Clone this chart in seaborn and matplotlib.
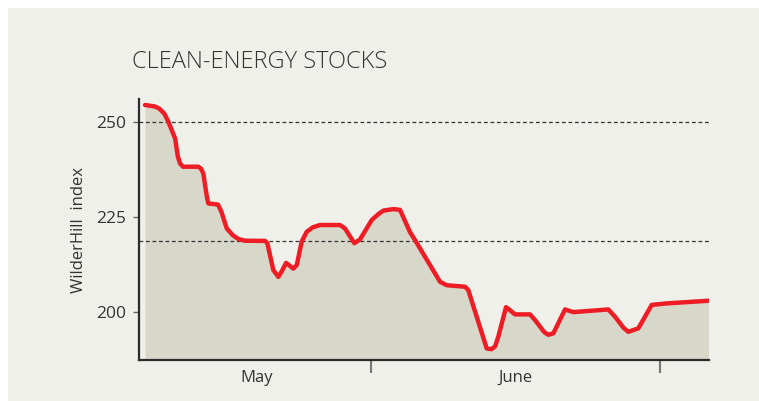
import matplotlib
matplotlib.use("Agg")
import matplotlib.pyplot as plt
import matplotlib.patches as mpatches
import seaborn as sns
import pandas as pd

# ---- data (days since 1 May, WilderHill index values) ----
day = [7.59, 8.63, 9.1, 9.6, 10.01, 10.71, 11.0, 11.22, 11.53, 13.12, 13.4, 13.64, 14.0, 14.16,
       15.16, 15.5, 16.07, 16.7, 17.27, 17.96, 20.04, 20.28, 20.90, 21.42, 21.8,
       22.22, 22.97, 23.33, 23.84, 24.36, 25.0, 25.74, 27.82, 28.33, 29.30, 29.89,
       31.10, 31.8, 32.31, 33.34, 34.04, 35.08, 35.60, 38.19, 38.88, 40.78, 41.12,
       43.03, 43.5, 43.89, 44.23, 45.03, 45.45, 45.96, 47.52, 48.04, 49.0, 49.42, 49.94,
       51.15, 52.01, 54.08, 55.64, 56.33, 57.2, 57.71, 58.75, 60.14, 61.70, 66.03]
index = [254.6, 254.2, 253.6, 252.3, 250.2, 245.8, 241.0, 239.2, 238.3, 238.3, 237.8, 236.5, 230.5,
         228.6, 228.3, 226.5, 222.0, 220.2, 219.2, 218.75, 218.7, 218.1, 211.0, 209.2, 210.8,
         212.9, 211.4, 212.3, 218.5, 221.1, 222.3, 222.9, 222.9, 222.0, 218.1, 219.1,
         224.2, 225.8, 226.7, 227.1, 226.9, 221.0, 218.9, 207.9, 207.0, 206.6, 205.7,
         190.3, 190.1, 190.8, 193.4, 201.2, 200.4, 199.3, 199.3, 197.8, 194.6, 193.9, 194.3,
         200.6, 199.9, 200.3, 200.6, 198.7, 195.8, 194.7, 195.6, 201.8, 202.2, 202.9]
ref_levels = [250.0, 218.8]
y_ticks = [200, 225, 250]
month_bounds = [31, 61]
month_labels = ["May", "June"]
month_label_pos = [19.2, 46.0]

BG = "#f0f0eb"
FILL = "#d7d8ca"
RED = "#ee1d25"
TXT = "#333333"

sns.set_theme(style="white")
plt.rcParams["font.family"] = ["Open Sans", "DejaVu Sans"]

df = pd.DataFrame({"day": day, "index": index})

fig = plt.figure(figsize=(7.59, 4.01), dpi=100, facecolor="white")
fig.patches.append(mpatches.Rectangle((8 / 759, 0), 1 - 8 / 759, 1 - 8 / 401,
                                      transform=fig.transFigure, facecolor=BG,
                                      edgecolor="none", zorder=-10))
ax = fig.add_axes([139 / 759, (401 - 360) / 401, (708.7 - 139) / 759, (360 - 99.3) / 401])
ax.set_zorder(5)
ax.set_facecolor(BG)

ax.fill_between(df["day"], df["index"], 150, color=FILL, zorder=1, linewidth=0)
for lv in ref_levels:
    ax.axhline(lv, color="#333333", lw=0.9, ls=(0, (3, 2.2)), zorder=2)
sns.lineplot(data=df, x="day", y="index", ax=ax, color=RED, linewidth=3.2,
             solid_joinstyle="round", solid_capstyle="round", zorder=3)

ax.set_xlim(6.97, 66.05)
ax.set_ylim(187.25, 256.1)

for s in ["top", "right"]:
    ax.spines[s].set_visible(False)
for s in ["left", "bottom"]:
    ax.spines[s].set_color("#2b2b2b")
    ax.spines[s].set_linewidth(1.6)

ax.set_yticks(y_ticks)
ax.set_yticklabels([str(v) for v in y_ticks], fontsize=12.5, color=TXT)
ax.tick_params(axis="y", which="major", left=True, length=4, width=1, color="#666666", pad=5)

ax.set_xticks(month_bounds)
ax.set_xticklabels(["", ""])
ax.tick_params(axis="x", which="major", bottom=True, length=9, width=1.5, color="#777777")
ax.set_xticks(month_label_pos, minor=True)
ax.set_xticklabels(month_labels, minor=True, fontsize=12, color=TXT)
ax.tick_params(axis="x", which="minor", bottom=False, length=0, pad=7)

ax.set_xlabel("")
ax.set_ylabel("WilderHill  index", fontsize=12, color=TXT, labelpad=7)

fig.text(132 / 759, 1 - 67.5 / 401, "CLEAN-ENERGY STOCKS", fontsize=17, color=TXT,
         fontweight="light", ha="left", va="baseline")

fig.savefig("out.png", dpi=100, facecolor="white")
